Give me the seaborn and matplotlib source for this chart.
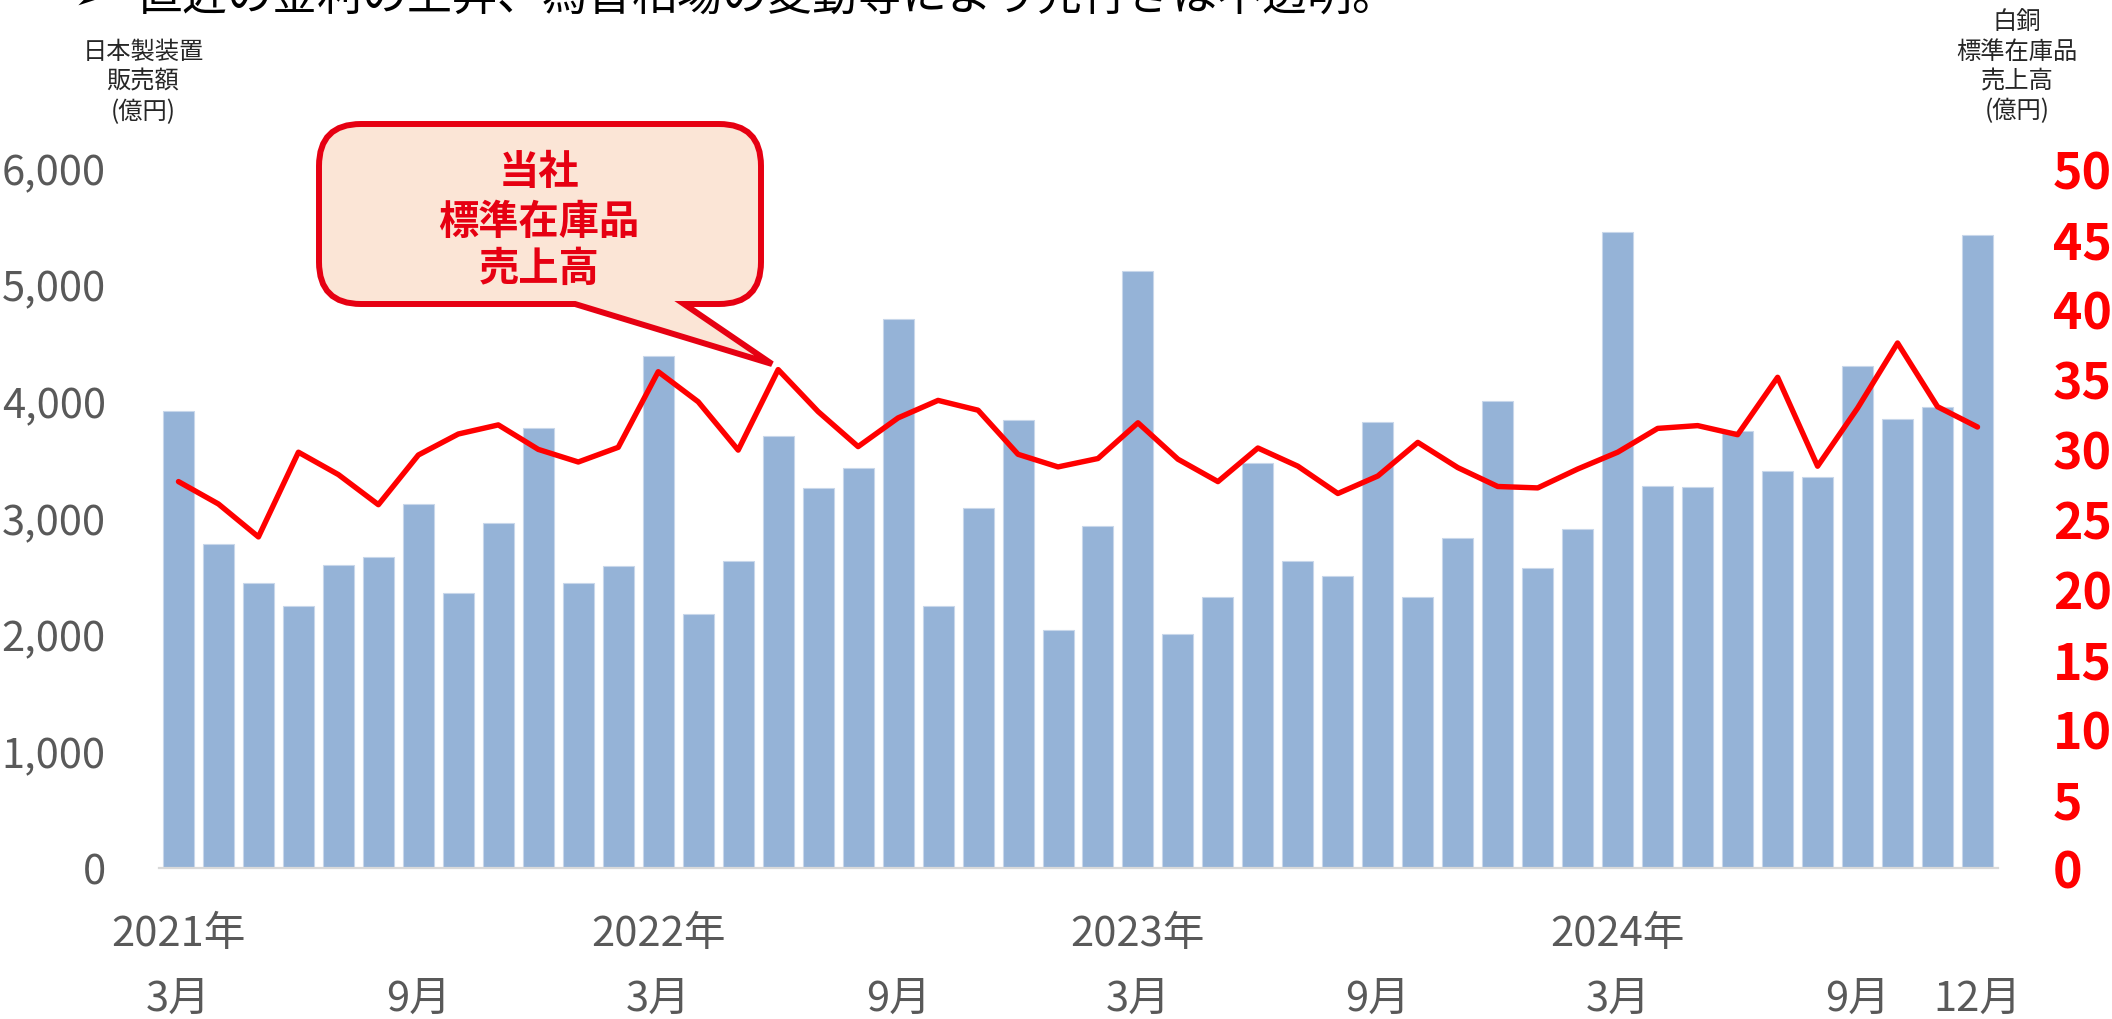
import numpy as np
import pandas as pd
import matplotlib
matplotlib.use("Agg")
import matplotlib.pyplot as plt
import matplotlib.transforms as mtransforms
from matplotlib.path import Path
from matplotlib.patches import PathPatch
import seaborn as sns

# monthly data, 2021/3 - 2024/12
months = [str(p) for p in pd.period_range("2021-03", "2024-12", freq="M")]

# 日本製装置販売額 (億円)
equipment_sales = [3918, 2780, 2443, 2244, 2593, 2668, 3118, 2353, 2955, 3770,
                   2440, 2588, 4390, 2180, 2635, 3700, 3260, 3430, 4710, 2245,
                   3090, 3840, 2040, 2935, 5120, 2010, 2320, 3470, 2635, 2500,
                   3820, 2320, 2830, 4005, 2570, 2905, 5455, 3275, 3265, 3745,
                   3400, 3355, 4300, 3845, 3955, 5425]

# 白銅 標準在庫品売上高 (億円)
stock_sales = [27.6, 26.0, 23.65, 29.7, 28.1, 25.95, 29.5, 31.0, 31.65, 29.9,
               29.0, 30.05, 35.45, 33.3, 29.85, 35.6, 32.6, 30.1, 32.15, 33.4,
               32.7, 29.55, 28.65, 29.25, 31.8, 29.2, 27.6, 30.0, 28.7, 26.75,
               28.0, 30.4, 28.6, 27.25, 27.15, 28.5, 29.7, 31.4, 31.6, 30.95,
               35.05, 28.7, 32.85, 37.5, 32.95, 31.5]

# x labels
month_ticks = ["2021-03", "2021-09", "2022-03", "2022-09", "2023-03",
               "2023-09", "2024-03", "2024-09", "2024-12"]
month_labels = ["3月", "9月", "3月", "9月", "3月", "9月", "3月", "9月", "12月"]
year_ticks = ["2021-03", "2022-03", "2023-03", "2024-03"]
year_labels = ["2021年", "2022年", "2023年", "2024年"]

left_ticks = [0, 1000, 2000, 3000, 4000, 5000, 6000]
right_ticks = [0, 5, 10, 15, 20, 25, 30, 35, 40, 45, 50]

df = pd.DataFrame({"month": months, "sales": equipment_sales, "stock": stock_sales})
df["pos"] = np.arange(len(df))

sns.set_style("white")
plt.rcParams["font.family"] = ["Noto Sans CJK JP", "DejaVu Sans"]

W, H = 2112, 1020
fig = plt.figure(figsize=(W / 100, H / 100), dpi=100)
ax = fig.add_axes([158.5 / W, 151 / H, 1839 / W, 700 / H])

sns.barplot(data=df, x="month", y="sales", order=months, color="#95B3D7",
            saturation=1, width=0.775, edgecolor="#C8D7EA", linewidth=0.8, ax=ax)
ax.set_xlim(-0.5, len(months) - 0.5)
ax.set_ylim(0, 6000)
ax.set_yticks(left_ticks)
ax.set_yticklabels([f"{v:,}" for v in left_ticks])
ax.tick_params(axis="y", length=0, pad=38, labelsize=30, labelcolor="#595959")
ax.set_xticks([])
ax.set_xlabel("")
ax.set_ylabel("")
for s in ["left", "right", "top"]:
    ax.spines[s].set_visible(False)
ax.spines["bottom"].set_color("#D9D9D9")
ax.spines["bottom"].set_linewidth(1.6)

ax2 = ax.twinx()
sns.lineplot(data=df, x="pos", y="stock", color="#FF0000", linewidth=3.9, ax=ax2,
             solid_joinstyle="round", solid_capstyle="round")
ax2.set_ylim(0, 50)
ax2.set_yticks(right_ticks)
ax2.set_yticklabels([str(v) for v in right_ticks], fontweight="bold")
ax2.tick_params(axis="y", length=0, pad=40, labelsize=36, labelcolor="#FF0000")
ax2.set_ylabel("")
ax2.set_xlabel("")
for s in ax2.spines.values():
    s.set_visible(False)

# x labels, two rows
trans = mtransforms.blended_transform_factory(ax.transData, ax.transAxes)
for m, lab in zip(month_ticks, month_labels):
    ax.annotate(lab, xy=(months.index(m), 0), xycoords=trans, xytext=(0, -94),
                textcoords="offset points", ha="center", va="center",
                fontsize=30, color="#595959", annotation_clip=False)
for m, lab in zip(year_ticks, year_labels):
    ax.annotate(lab, xy=(months.index(m), 0), xycoords=trans, xytext=(0, -47.5),
                textcoords="offset points", ha="center", va="center",
                fontsize=30, color="#595959", annotation_clip=False)

# overlay in pixel units for title, axis titles and callout
ov = fig.add_axes([0, 0, 1, 1], zorder=10)
ov.set_xlim(0, W)
ov.set_ylim(H, 0)
ov.axis("off")

ov.text(90, 10, "➢", fontsize=28, ha="center", va="baseline", color="#000000")
ov.text(137, 10, "直近の金利の上昇、為替相場の変動等により先行きは不透明。",
        fontsize=32.4, ha="left", va="baseline", color="#000000")

for y, t in zip([52, 82, 112], ["日本製装置", "販売額", "(億円)"]):
    ov.text(143, y, t, fontsize=17.5, ha="center", va="center", color="#262626")
for y, t in zip([22, 52, 82, 111], ["白銅", "標準在庫品", "売上高", "(億円)"]):
    ov.text(2017, y, t, fontsize=17.5, ha="center", va="center", color="#262626")

# speech bubble
x0, x1, y0, y1, r = 319, 761, 125, 305, 42
verts = [(x0 + r, y0), (x1 - r, y0), (x1, y0), (x1, y0 + r), (x1, y1 - r),
         (x1, y1), (x1 - r, y1), (684, y1), (772, 365), (575, y1),
         (x0 + r, y1), (x0, y1), (x0, y1 - r), (x0, y0 + r), (x0, y0),
         (x0 + r, y0), (x0 + r, y0)]
codes = [Path.MOVETO, Path.LINETO, Path.CURVE3, Path.CURVE3, Path.LINETO,
         Path.CURVE3, Path.CURVE3, Path.LINETO, Path.LINETO, Path.LINETO,
         Path.LINETO, Path.CURVE3, Path.CURVE3, Path.LINETO, Path.CURVE3,
         Path.CURVE3, Path.CLOSEPOLY]
ov.add_patch(PathPatch(Path(verts, codes), facecolor="#FBE5D6", edgecolor="#E60012",
                       linewidth=4.3, joinstyle="miter"))
for y, t in zip([172, 222, 269], ["当社", "標準在庫品", "売上高"]):
    ov.text(539, y, t, fontsize=29, fontweight="bold", ha="center", va="center",
            color="#E60012")

fig.savefig("out.png", dpi=100)
